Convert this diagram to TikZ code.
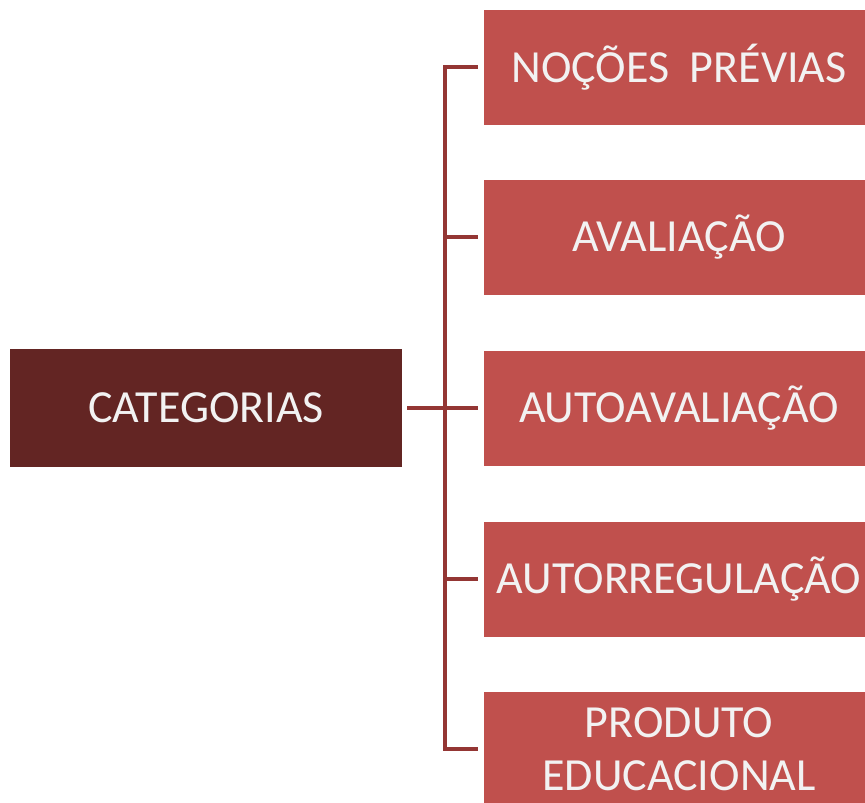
\documentclass[tikz,border=0pt]{standalone}
\usepackage{fontspec}
\setmainfont{Carlito}
\usepackage{tikz}
\usetikzlibrary{calc, positioning}
\definecolor{catred}{HTML}{632523}
\definecolor{boxred}{HTML}{C0504D}
\definecolor{linkred}{HTML}{943634}
\tikzstyle{catbox}=[shape=rectangle, fill=catred, text=white!95!black, minimum width=392pt, minimum height=118pt, inner sep=0pt]
\tikzstyle{itembox}=[shape=rectangle, fill=boxred, text=white!95!black, minimum width=390pt, minimum height=115pt, inner sep=0pt, align=center]
\tikzstyle{link}=[draw=linkred, line width=4pt]
\begin{document}
\begin{tikzpicture}[x=1pt,y=-1pt,font=\fontsize{46}{53}\selectfont]
\useasboundingbox (0,0) rectangle (865,803);
\node[catbox] (cat) at (206,408) {CATEGORIAS};
\node[itembox] (b1) at (679,67) {NOÇÕES\ \ PRÉVIAS};
\node[itembox] (b2) at (679,237) {AVALIAÇÃO};
\node[itembox] (b3) at (679,408) {AUTOAVALIAÇÃO};
\node[itembox] (b4) at (679,579) {AUTORREGULAÇÃO};
\node[itembox] (b5) at (679,749) {PRODUTO\\EDUCACIONAL};
\coordinate (trunk) at (445,408);
%tree
\draw[link] ([xshift=5pt]cat.east) -- ([xshift=-6pt]b3.west);
\draw[link] ([xshift=-6pt]b1.west) -| (trunk |- b5.west) -- ([xshift=-6pt]b5.west);
\foreach \i in {2,4}{
	\draw[link] (trunk |- b\i.west) -- ([xshift=-6pt]b\i.west);
}
\end{tikzpicture}
\end{document}
